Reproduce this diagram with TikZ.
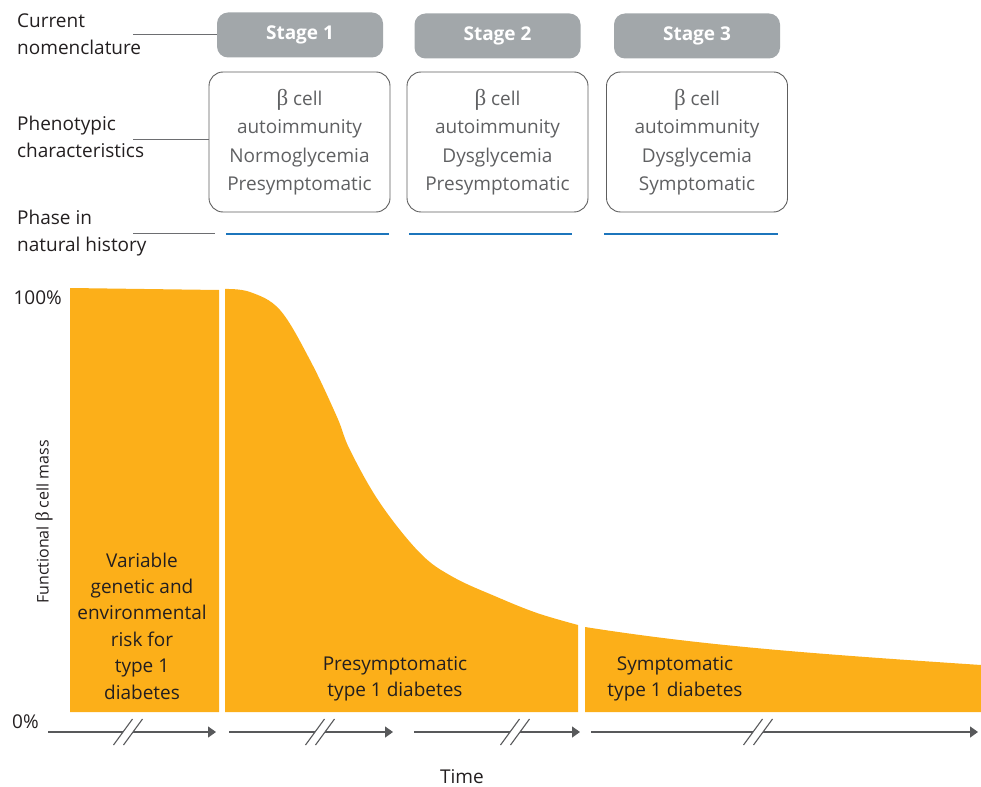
\documentclass[tikz,border=0pt]{standalone}
\usepackage{fontspec}
\setmainfont{Open Sans}
\newfontfamily\greekserif{Liberation Serif}
\usetikzlibrary{arrows.meta}
\definecolor{barorange}{HTML}{FCAF19}
\definecolor{stagegray}{HTML}{A2A7AA}
\definecolor{boxborder}{HTML}{5E5E5E}
\definecolor{boxtext}{HTML}{5F6062}
\definecolor{phaseblue}{HTML}{1C75BC}
\definecolor{axisgray}{HTML}{58595B}
\definecolor{labelblack}{HTML}{231F20}
\definecolor{leadgray}{HTML}{6D6E71}
\newcommand{\bet}{{\greekserif\fontsize{23}{23}\selectfont β}}
\newcommand{\betsmall}{{\greekserif\fontsize{19}{19}\selectfont β}}
\begin{document}
\begin{tikzpicture}[x=1pt,y=-1pt,
  lbl/.style={font=\fontsize{19}{27}\selectfont, text=labelblack, align=left, anchor=west, inner sep=0pt},
  plain/.style={font=\fontsize{19}{23}\selectfont, text=labelblack, inner sep=0pt},
  stagebox/.style={rounded corners=11pt, fill=stagegray, text=white, font=\bfseries\fontsize{19}{20}\selectfont, minimum width=166pt, minimum height=45pt, inner sep=0pt},
  phenbox/.style={draw=boxborder, line width=0.9pt, rounded corners=14pt, minimum width=181pt, minimum height=140pt, text=boxtext, align=center, font=\fontsize{19}{28.5}\selectfont, inner sep=0pt},
  lead/.style={draw=leadgray, line width=0.9pt},
  phase/.style={draw=phaseblue, line width=2.6pt},
  bartext/.style={text=labelblack, align=center, font=\fontsize{19}{26.4}\selectfont, inner sep=0pt},
  axis/.style={draw=axisgray, line width=1.3pt, -{Triangle[length=8pt,width=11pt]}},
  brk/.style={draw=axisgray, line width=1.1pt}
]
\useasboundingbox (0,0) rectangle (981,786);

% left labels
\node[lbl] (lab1) at (17,34) {Current\\nomenclature};
\node[lbl] (lab2) at (17,137) {Phenotypic\\characteristics};
\node[lbl] (lab3) at (17,233) {Phase in\\natural history};

% stage boxes
\node[stagebox] (s1) at (300,35) {Stage 1};
\node[stagebox] (s2) at (497.5,36) {Stage 2};
\node[stagebox] (s3) at (697,36) {Stage 3};

% phenotype boxes
\node[phenbox] (p1) at (299.5,142) {\bet\ cell\\autoimmunity\\Normoglycemia\\Presymptomatic};
\node[phenbox] (p2) at (497.5,142) {\bet\ cell\\autoimmunity\\Dysglycemia\\Presymptomatic};
\node[phenbox] (p3) at (697,142) {\bet\ cell\\autoimmunity\\Dysglycemia\\Symptomatic};

% leader lines
\coordinate (l1a) at (133,34);
\coordinate (l2a) at (133,139);
\coordinate (l3a) at (133,233);
\coordinate (l3b) at (215,233);
\draw[lead] (l1a) -- (l1a -| s1.west);
\draw[lead] (l2a) -- (l2a -| p1.west);
\draw[lead] (l3a) -- (l3b);

% phase lines
\coordinate (ph1a) at (226,234); \coordinate (ph1b) at (389,234);
\coordinate (ph2a) at (409,234); \coordinate (ph2b) at (572,234);
\coordinate (ph3a) at (604,234); \coordinate (ph3b) at (778,234);
\draw[phase] (ph1a) -- (ph1b);
\draw[phase] (ph2a) -- (ph2b);
\draw[phase] (ph3a) -- (ph3b);

% orange areas
\fill[barorange] (70,712) -- (70,288) -- (219,290) -- (219,712) -- cycle;
\fill[barorange] (225,712) -- plot[smooth, tension=0.6] coordinates {(225,289) (250,292) (280,310) (310,360) (337,417) (350,450) (380,503) (420,553) (453,577) (497,597) (537,613) (578,625)}
  -- (578,712) -- cycle;
\fill[barorange] (585,712) -- (585,627) .. controls (700,645) and (800,653) .. (981,665) -- (981,712) -- cycle;

% axis labels
\node[plain, anchor=east] (y100) at (62,298) {100\%};
\node[plain, anchor=west] (y0) at (12,722) {0\%};
\node[plain, anchor=center, rotate=90, font=\fontsize{16}{20}\selectfont] (ylab) at (44,522) {Functional \betsmall\ cell mass};
\node[plain, anchor=base] (time) at (462,783) {Time};

% text in areas
\node[bartext] (t1) at (142,626) {Variable\\genetic and\\environmental\\risk for\\type 1\\diabetes};
\node[bartext] (t2) at (395,679) {Presymptomatic\\type 1 diabetes};
\node[bartext] (t3) at (675,679) {Symptomatic\\type 1 diabetes};

% time axis arrows
\coordinate (a1s) at (48,732);  \coordinate (a1e) at (216,732);
\coordinate (a2s) at (229,732); \coordinate (a2e) at (393,732);
\coordinate (a3s) at (414,732); \coordinate (a3e) at (580,732);
\coordinate (a4s) at (591,732); \coordinate (a4e) at (978,732);
\draw[axis] (a1s) -- (a1e);
\draw[axis] (a2s) -- (a2e);
\draw[axis] (a3s) -- (a3e);
\draw[axis] (a4s) -- (a4e);

% breaks
\foreach \c in {128,320,515,758}{
  \fill[white] (\c-14.5,745) -- (\c+4.5,719) -- (\c+14.5,719) -- (\c-4.5,745) -- cycle;
  \draw[brk] (\c-14.5,745) -- (\c+4.5,719);
  \draw[brk] (\c-4.5,745) -- (\c+14.5,719);
}
\end{tikzpicture}
\end{document}
